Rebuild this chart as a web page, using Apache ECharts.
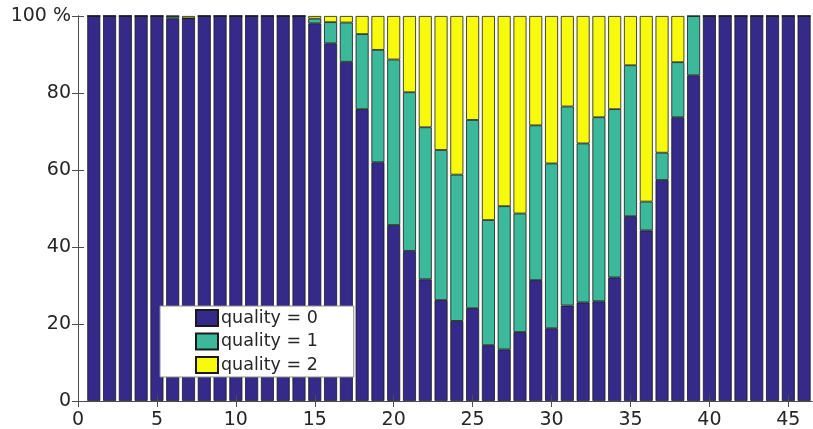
<!DOCTYPE html>
<html>
<head>
<meta charset="utf-8">
<script src="https://cdn.jsdelivr.net/npm/echarts@6/dist/echarts.min.js"></script>
<style>html,body{margin:0;padding:0;background:#fff}#c{width:813px;height:429px}</style>
</head>
<body>
<div id="c"></div>
<script>
const categories = [1,2,3,4,5,6,7,8,9,10,11,12,13,14,15,16,17,18,19,20,21,22,23,24,25,26,27,28,29,30,31,32,33,34,35,36,37,38,39,40,41,42,43,44,45,46];
const quality0 = [100,100,100,100,100,99.4,99.4,100,100,100,100,100,100,100,98.1,92.9,88.1,75.8,62.0,45.7,39.0,31.6,26.2,20.8,24.1,14.5,13.4,17.9,31.4,18.9,24.8,25.6,25.9,32.1,48.0,44.3,57.4,73.7,84.6,100,100,100,100,100,100,100];
const quality1 = [0,0,0,0,0,0.6,0,0,0,0,0,0,0,0,1.2,5.5,10.2,19.5,29.2,43.0,41.2,39.5,39.0,38.0,48.9,32.5,37.2,30.8,40.2,42.8,51.7,41.3,47.8,43.7,39.2,7.5,7.1,14.3,15.4,0,0,0,0,0,0,0];
const quality2 = [0,0,0,0,0,0,0.6,0,0,0,0,0,0,0,0.7,1.6,1.7,4.7,8.8,11.3,19.8,28.9,34.8,41.2,27.0,53.0,49.4,51.3,28.4,38.3,23.5,33.1,26.3,24.2,12.8,48.2,35.5,12.0,0,0,0,0,0,0,0,0];
const seriesNames = ['quality = 0','quality = 1','quality = 2'];
const xTicks = [0,5,10,15,20,25,30,35,40,45];
const yTicks = [0,20,40,60,80,100];

const colors = ['#35298a','#3cb89b','#f8fa0e'];
const font = 'DejaVu Sans';
const txt = '#262626';
const axisCol = '#4d4d4d';

// x range of the plot is 0 .. 46.5 ; categories occupy 0.5 .. 46.5
const plotLeft = 78, plotRight = 812, xMax = 46.5;
const unit = (plotRight - plotLeft) / xMax;

const chart = echarts.init(document.getElementById('c'), null, {renderer:'canvas'});
const values = [quality0, quality1, quality2];
const series = values.map((arr, k) => ({
  name: seriesNames[k],
  type: 'bar',
  stack: 'q',
  xAxisIndex: 0,
  yAxisIndex: 0,
  barWidth: 13,
  data: arr,
  itemStyle: {color: colors[k], borderColor: '#1a1a1a', borderWidth: 0.8},
  emphasis: {disabled: true},
  animation: false
}));

const hidden = {show: false};
chart.setOption({
  animation: false,
  color: colors,
  grid: [
    {left: plotLeft + 0.5 * unit, right: 813 - plotRight, top: 16, bottom: 28, containLabel: false, outerBoundsMode: 'none'},
    {left: plotLeft, right: 813 - plotRight, top: 16, bottom: 28, containLabel: false, outerBoundsMode: 'none'}
  ],
  legend: {
    orient: 'vertical',
    left: 160, top: 306,
    data: seriesNames,
    itemWidth: 22, itemHeight: 16, itemGap: 5.5,
    padding: [3, 36, 3, 35],
    backgroundColor: '#ffffff',
    borderColor: '#8c8c8c', borderWidth: 1, borderRadius: 0,
    icon: 'rect',
    textStyle: {fontFamily: font, fontSize: 17.5, color: txt, padding: [0,0,0,-2]}
  },
  xAxis: [{
    gridIndex: 0, type: 'category', data: categories, boundaryGap: true,
    axisLine: hidden, axisTick: hidden, axisLabel: hidden, splitLine: hidden
  }, {
    gridIndex: 1, type: 'value', position: 'bottom', min: 0, max: xMax, interval: 5, z: 10,
    axisLine: {show: true, lineStyle: {color: axisCol, width: 1}},
    axisTick: {show: true, inside: true, length: 6, customValues: xTicks, lineStyle: {color: axisCol}},
    axisLabel: {customValues: xTicks, fontFamily: font, fontSize: 19, lineHeight: 14, color: txt, margin: 12},
    splitLine: hidden
  }, {
    gridIndex: 1, type: 'value', position: 'top', min: 0, max: xMax, interval: 5, z: 10,
    axisLine: {show: true, lineStyle: {color: axisCol, width: 1}},
    axisTick: {show: true, inside: true, length: 6, customValues: xTicks, lineStyle: {color: axisCol}},
    axisLabel: hidden,
    splitLine: hidden
  }],
  yAxis: [{
    gridIndex: 0, type: 'value', min: 0, max: 100,
    axisLine: hidden, axisTick: hidden, axisLabel: hidden, splitLine: hidden
  }, {
    gridIndex: 1, type: 'value', position: 'left', min: 0, max: 100, interval: 20, z: 10,
    axisLine: {show: true, lineStyle: {color: axisCol, width: 1}},
    axisTick: {show: true, inside: true, length: 6, customValues: yTicks, lineStyle: {color: axisCol}},
    axisLabel: {customValues: yTicks, fontFamily: font, fontSize: 19, color: txt, margin: 7,
      formatter: v => v === 100 ? '100 %' : String(v)},
    splitLine: hidden
  }, {
    gridIndex: 1, type: 'value', position: 'right', min: 0, max: 100, interval: 20, z: 10,
    axisLine: {show: true, lineStyle: {color: axisCol, width: 1}},
    axisTick: {show: true, inside: true, length: 6, customValues: yTicks, lineStyle: {color: axisCol}},
    axisLabel: hidden,
    splitLine: hidden
  }],
  series: series
});
</script>
</body>
</html>
